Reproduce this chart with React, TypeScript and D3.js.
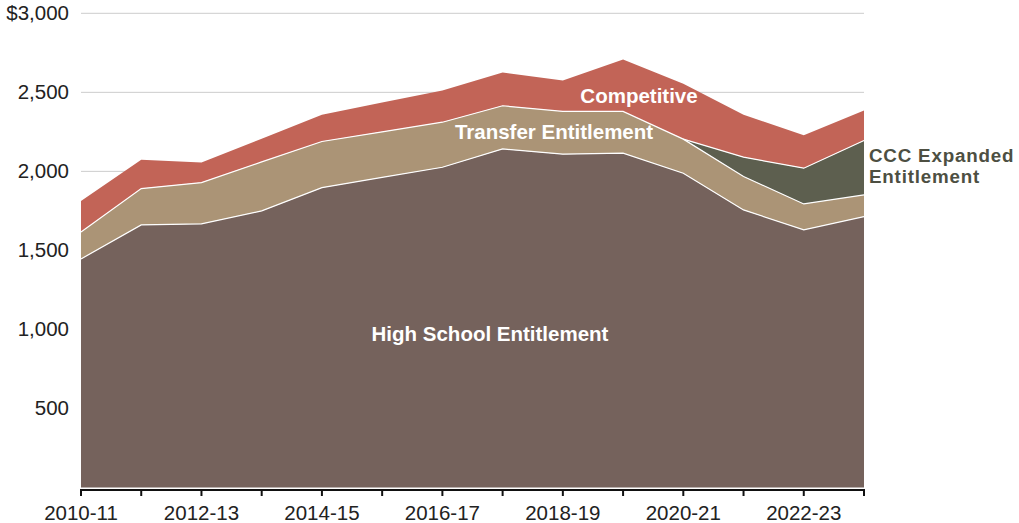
import React, {useEffect, useRef} from "react";
import * as d3 from "d3";

const years = ["2010-11", "2011-12", "2012-13", "2013-14", "2014-15", "2015-16", "2016-17",
    "2017-18", "2018-19", "2019-20", "2020-21", "2021-22", "2022-23", "2023-24"];
const highSchool = [1446, 1661, 1668, 1750, 1897, 1962, 2026, 2142, 2109, 2115, 1988, 1756, 1630, 1714];
const transfer = [171, 230, 261, 310, 292, 288, 285, 273, 270, 264, 216, 211, 164, 137];
const cccExpanded = [0, 0, 0, 0, 0, 0, 0, 0, 0, 0, 0, 123, 226, 344];
const competitive = [196, 182, 127, 147, 169, 185, 201, 210, 196, 329, 350, 268, 209, 190];
const yTicks = [500, 1000, 1500, 2000, 2500, 3000];
const xTickLabels = ["2010-11", "2012-13", "2014-15", "2016-17", "2018-19", "2020-21", "2022-23"];

const keys = ["hs", "transfer", "ccc", "comp"];
const colors = {hs: "#75625c", transfer: "#ab9476", ccc: "#5d5f4f", comp: "#c26457"};

const FONT = "'Liberation Sans', Arial, Helvetica, sans-serif";

function draw(node) {
    const svg = d3.select(node);
    svg.selectAll("*").remove();

    const rows = years.map((y, i) => ({
        year: y, hs: highSchool[i], transfer: transfer[i], ccc: cccExpanded[i], comp: competitive[i]
    }));

    const x = d3.scalePoint().domain(years).range([81, 864]);
    const y = d3.scaleLinear().domain([0, 3000]).range([487.5, 13.3]);

    // grid
    svg.append("g").selectAll("line")
        .data(yTicks).enter().append("line")
            .attr("x1", 81).attr("x2", 864)
            .attr("y1", d => y(d)).attr("y2", d => y(d))
            .attr("stroke", "#cccccc").attr("stroke-width", 1);

    svg.append("g").selectAll("text")
        .data(yTicks).enter().append("text")
            .attr("x", 69).attr("y", d => y(d) + 7)
            .attr("text-anchor", "end")
            .style("font-family", FONT).style("font-size", "20.5px").style("fill", "#222")
            .text(d => (d === 3000 ? "$" : "") + d3.format(",")(d));

    const series = d3.stack().keys(keys)(rows);

    const area = d3.area()
        .x(d => x(d.data.year))
        .y0(d => y(d[0]))
        .y1(d => y(d[1]));

    svg.append("g").selectAll("path")
        .data(series).enter().append("path")
            .attr("d", area)
            .attr("fill", d => colors[d.key]);

    // white separators
    const line = d3.line().x(d => x(d.data.year)).y(d => y(d[1]));
    series.slice(0, 3).forEach(s => {
        let pts = s;
        if (s.key === "ccc") pts = s.filter((d, i) => i >= 10);
        svg.append("path")
            .attr("d", line(pts))
            .attr("fill", "none")
            .attr("stroke", "#ffffff")
            .attr("stroke-width", 1.2);
    });

    // x axis
    const axisY = 490;
    svg.append("line")
        .attr("x1", 80).attr("x2", 865)
        .attr("y1", axisY).attr("y2", axisY)
        .attr("stroke", "#111").attr("stroke-width", 2);
    svg.append("g").selectAll("line")
        .data(years).enter().append("line")
            .attr("x1", d => x(d)).attr("x2", d => x(d))
            .attr("y1", axisY).attr("y2", axisY + 6)
            .attr("stroke", "#111").attr("stroke-width", 2);
    svg.append("g").selectAll("text")
        .data(xTickLabels).enter().append("text")
            .attr("x", d => x(d)).attr("y", 520)
            .attr("text-anchor", "middle")
            .style("font-family", FONT).style("font-size", "20.5px").style("fill", "#222")
            .text(d => d);

    // series labels
    const lab = (txt, lx, ly, fill, anchor, size, spacing) => svg.append("text")
        .attr("x", lx).attr("y", ly)
        .attr("text-anchor", anchor)
        .style("font-family", FONT).style("font-size", size + "px").style("font-weight", "bold")
        .style("letter-spacing", spacing + "px")
        .style("fill", fill)
        .text(txt);

    lab("High School Entitlement", 490, 341, "#ffffff", "middle", 20.5, 0);
    lab("Transfer Entitlement", 554, 139, "#ffffff", "middle", 20.5, 0);
    lab("Competitive", 639, 103, "#ffffff", "middle", 20.5, 0);
    lab("CCC Expanded", 869, 161.5, "#4d4f42", "start", 18.8, 0.8);
    lab("Entitlement", 869, 182.5, "#4d4f42", "start", 18.8, 0.8);
}

export default function App() {
    const ref = useRef(null);
    useEffect(() => { draw(ref.current); });
    return <svg ref={ref} width={1019} height={523}
                style={{position: "absolute", left: 0, top: 0, background: "#fff"}}></svg>;
}
